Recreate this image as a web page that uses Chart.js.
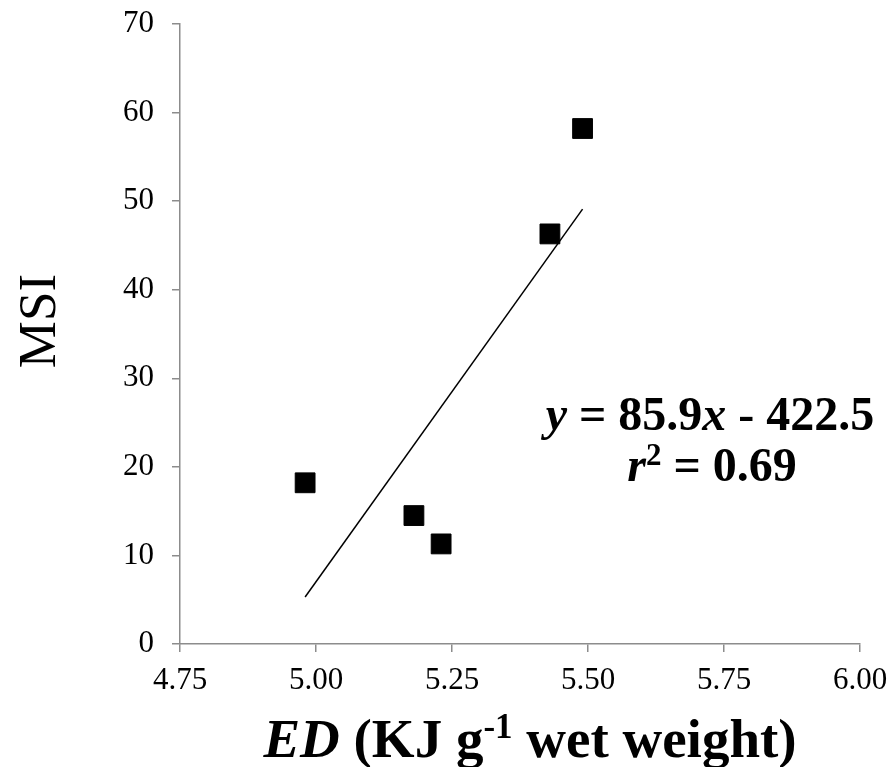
<!DOCTYPE html>
<html lang="en">
<head>
  <meta charset="UTF-8" />
  <title>MSI vs ED</title>
  <script src="https://cdn.jsdelivr.net/npm/chart.js"></script>
  <style>
    html, body { margin: 0; padding: 0; background: #fff; }
    #wrap { width: 892px; height: 767px; }
  </style>
</head>
<body>
  <div id="wrap"><canvas id="grafico"></canvas></div>

  <script>
    // values
    const edValues = [4.98, 5.18, 5.23, 5.43, 5.49];
    const msiValues = [18.2, 14.5, 11.3, 46.3, 58.2];
    // trendline end points (as drawn)
    const trendX = [4.98, 5.49];
    const trendY = [5.3, 49.1];

    const xTicks = [4.75, 5.00, 5.25, 5.50, 5.75, 6.00];
    const yTicks = [0, 10, 20, 30, 40, 50, 60, 70];

    const SERIF = "'Liberation Serif', 'Times New Roman', serif";
    const axisGray = '#8c8c8c';

    // draws a row of text pieces (for italic parts and superscripts)
    function drawPieces(ctx, pieces, cx, baseline) {
      let total = 0;
      pieces.forEach(p => {
        ctx.font = p.font;
        p.w = ctx.measureText(p.text).width;
        total += p.w;
      });
      let x = cx - total / 2;
      pieces.forEach(p => {
        ctx.font = p.font;
        ctx.fillText(p.text, x, baseline - (p.rise || 0));
        x += p.w;
      });
    }

    const textPlugin = {
      id: 'textos',
      afterDraw(chart) {
        const ctx = chart.ctx;
        ctx.save();
        ctx.fillStyle = '#000';
        ctx.textBaseline = 'alphabetic';
        ctx.textAlign = 'left';

        // x axis title
        const tb = 'bold 55px ' + SERIF;
        drawPieces(ctx, [
          { text: 'ED', font: 'italic ' + tb },
          { text: ' (KJ g', font: tb },
          { text: '-1', font: 'bold 35px ' + SERIF, rise: 19 },
          { text: ' wet weight)', font: tb }
        ], 530, 757);

        // equation
        const eb = 'bold 48px ' + SERIF;
        drawPieces(ctx, [
          { text: 'y', font: 'italic ' + eb },
          { text: ' = 85.9', font: eb },
          { text: 'x', font: 'italic ' + eb },
          { text: ' - 422.5', font: eb }
        ], 710, 430);
        drawPieces(ctx, [
          { text: 'r', font: 'italic ' + eb },
          { text: '2', font: 'bold 31px ' + SERIF, rise: 16 },
          { text: ' = 0.69', font: eb }
        ], 712, 481);

        // y axis title
        ctx.translate(55, 321);
        ctx.rotate(-Math.PI / 2);
        ctx.textAlign = 'center';
        ctx.font = '53px ' + SERIF;
        ctx.fillText('MSI', 0, 0);
        ctx.restore();
      }
    };

    const ctx = document.getElementById('grafico').getContext('2d');
    new Chart(ctx, {
      type: 'scatter',
      data: {
        datasets: [
          {
            label: 'MSI',
            data: edValues.map((x, i) => ({ x: x, y: msiValues[i] })),
            pointStyle: 'rect',
            pointRadius: 14,
            pointHoverRadius: 14,
            backgroundColor: '#000',
            borderColor: '#000',
            borderWidth: 1
          },
          {
            label: 'Tendência',
            type: 'line',
            data: trendX.map((x, i) => ({ x: x, y: trendY[i] })),
            borderColor: '#000',
            borderWidth: 1.5,
            pointRadius: 0,
            fill: false
          }
        ]
      },
      options: {
        responsive: true,
        maintainAspectRatio: false,
        animation: false,
        layout: { padding: { left: 0, right: 32, top: 24, bottom: 0 } },
        plugins: {
          legend: { display: false },
          tooltip: { enabled: false }
        },
        scales: {
          x: {
            type: 'linear',
            min: 4.75,
            max: 6.00,
            afterBuildTicks: s => { s.ticks = xTicks.map(v => ({ value: v })); },
            afterFit: s => { s.height = 123; s.paddingLeft = 0; s.paddingRight = 0; },
            ticks: {
              callback: v => v.toFixed(2),
              color: '#000',
              font: { family: SERIF, size: 31 },
              padding: 10,
              maxRotation: 0
            },
            grid: { drawOnChartArea: false, drawTicks: true, tickLength: 8, color: axisGray, lineWidth: 1.5 },
            border: { color: axisGray, width: 1.5 }
          },
          y: {
            min: 0,
            max: 70,
            afterBuildTicks: s => { s.ticks = yTicks.map(v => ({ value: v })); },
            afterFit: s => { s.width = 180; s.paddingTop = 0; s.paddingBottom = 0; },
            ticks: {
              color: '#000',
              font: { family: SERIF, size: 31 },
              padding: 18
            },
            grid: { drawOnChartArea: false, drawTicks: true, tickLength: 8, color: axisGray, lineWidth: 1.5 },
            border: { color: axisGray, width: 1.5 }
          }
        }
      },
      plugins: [textPlugin]
    });
  </script>
</body>
</html>
